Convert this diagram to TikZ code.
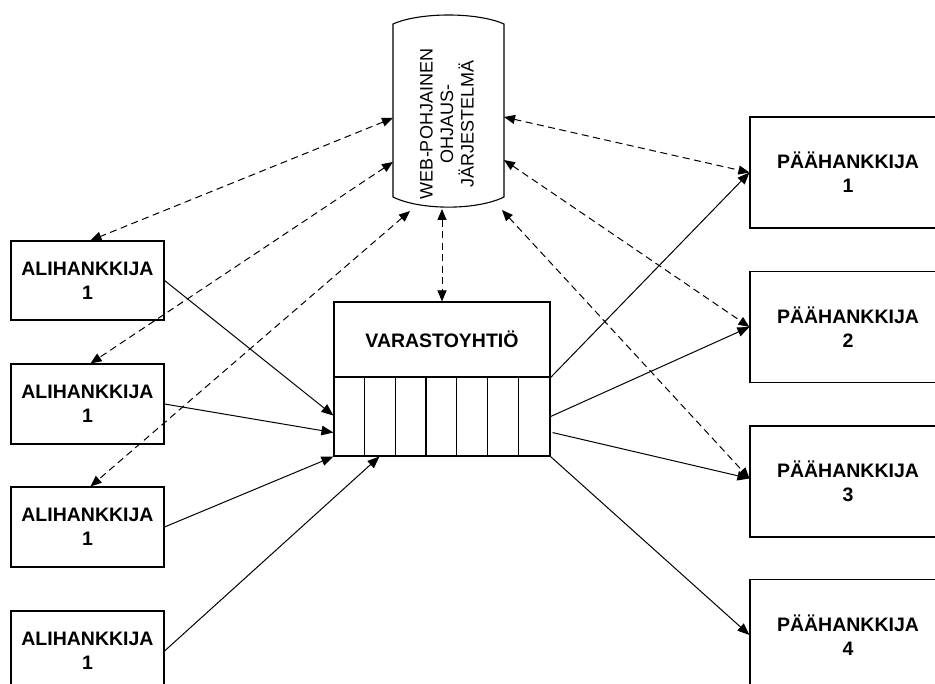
\documentclass[tikz,border=0pt]{standalone}
\usepackage{fontspec}
\setmainfont{Liberation Sans}
\usetikzlibrary{arrows.meta,calc}
\begin{document}
\begin{tikzpicture}[x=1pt,y=-1pt,
  party/.style={draw, line width=1.1pt, inner sep=0pt, align=center,
    font=\fontsize{19.5}{24}\selectfont\bfseries},
  subbox/.style={party, minimum width=153pt},
  mainbox/.style={party, minimum width=196pt, minimum height=111pt},
  flow/.style={line width=1pt, -{Triangle[length=12pt,width=9.5pt]}},
  info/.style={line width=1pt, dash pattern=on 7pt off 4.5pt,
    {Triangle[length=11pt,width=9pt]}-{Triangle[length=11pt,width=9pt]}}
]
\useasboundingbox (0,0) rectangle (935,684);
\clip (0,0) rectangle (935,684);

% control system drum
\draw[line width=1.1pt] (393,24) -- (393,197)
  .. controls (420,210.5) and (477,210.5) .. (504,197) -- (504,24)
  .. controls (477,12) and (420,12) .. (393,24) -- cycle;
\node[rotate=90, align=center, inner sep=0pt,
  font=\fontsize{18}{20.5}\selectfont] (web) at (447,124)
  {WEB-POHJAINEN\\OHJAUS-\\JÄRJESTELMÄ};
\coordinate (webL1) at (393,118);
\coordinate (webL2) at (393,162);
\coordinate (webR1) at (504,117);
\coordinate (webR2) at (504,160);
\coordinate (webB1) at (410,211);
\coordinate (webB2) at (442,209);
\coordinate (webB3) at (502,210);

% subcontractors
\node[subbox, minimum height=79pt] (a1) at (87.5,280.5) {ALIHANKKIJA\\1};
\node[subbox, minimum height=80pt] (a2) at (87.5,404) {ALIHANKKIJA\\1};
\node[subbox, minimum height=80pt] (a3) at (87.5,527) {ALIHANKKIJA\\1};
\node[subbox, minimum height=80pt] (a4) at (87.5,651) {ALIHANKKIJA\\1};

% main contractors
\node[mainbox] (p1) at (848,172.5) {PÄÄHANKKIJA\\1};
\node[mainbox] (p2) at (848,327) {PÄÄHANKKIJA\\2};
\node[mainbox] (p3) at (848,481.5) {PÄÄHANKKIJA\\3};
\node[mainbox] (p4) at (848,635) {PÄÄHANKKIJA\\4};

% warehouse with its storage slots
\node[draw, line width=1.1pt, minimum width=216pt, minimum height=154pt,
  inner sep=0pt] (vs) at (442,379) {};
\draw[line width=1.1pt] (vs.west |- 0,377) -- (vs.east |- 0,377);
\foreach \i in {1,...,6}
  \draw[line width=1.1pt] ($(vs.south west)+(\i*216/7,0)$) -- ++(0,-79);
\node[font=\fontsize{19.5}{24}\selectfont\bfseries, inner sep=0pt]
  (vslabel) at (442,339.5) {VARASTOYHTIÖ};

% material flows
\draw[flow] (a1.east) -- ($(vs.south west)+(0,-41)$);
\draw[flow] (a2.east) -- ($(vs.south west)+(0,-24)$);
\draw[flow] (a3.east) -- (vs.south west);
\draw[flow] (a4.east) -- ($(vs.south west)+(46,0)$);
\draw[flow] ($(vs.south east)+(0,-79)$) -- (p1.west);
\draw[flow] ($(vs.south east)+(0,-40)$) -- (p2.west);
\draw[flow] ($(vs.south east)+(2,-24)$) -- ($(p3.west)+(0,-3)$);
\draw[flow] (vs.south east) -- (p4.west);

% information flows
\draw[info] (webL1) -- ($(a1.north)+(3,0)$);
\draw[info] (webL2) -- ($(a2.north)+(3,0)$);
\draw[info] (webB1) -- ($(a3.north)+(3,0)$);
\draw[info] (webB2) -- (vs.north);
\draw[info] (webR1) -- (p1.west);
\draw[info] (webR2) -- (p2.west);
\draw[info] (webB3) -- ($(p3.west)+(0,-3)$);
\end{tikzpicture}
\end{document}
